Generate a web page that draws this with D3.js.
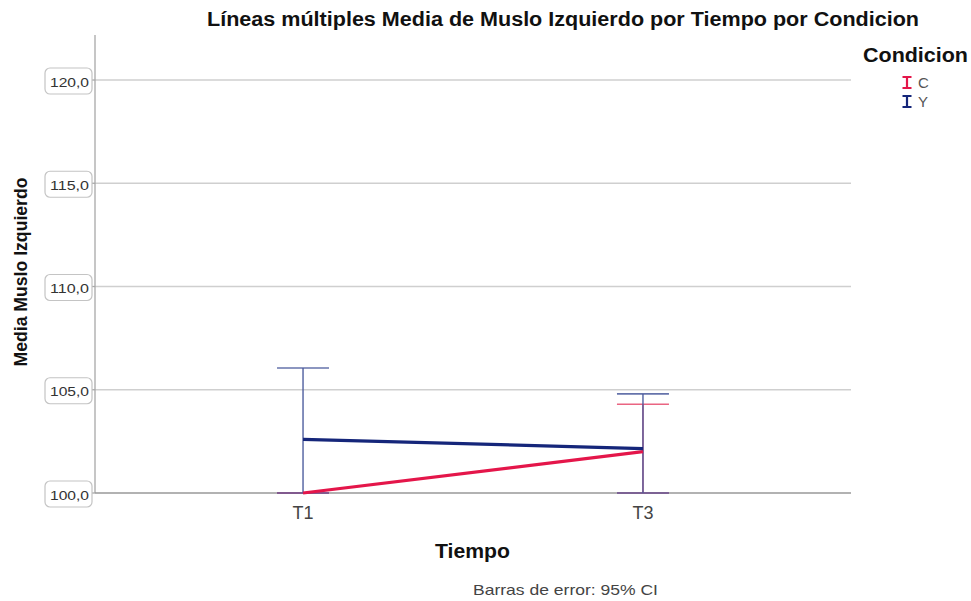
<!DOCTYPE html>
<html>
<head>
<meta charset="utf-8">
<script src="https://cdn.jsdelivr.net/npm/d3@7"></script>
<style>
  body { margin: 0; background: #fff; }
  svg { display: block; }
</style>
</head>
<body>
<svg id="chart" width="971" height="601"></svg>
<script>
// Time points and condition groups
const tiempos = ["T1", "T3"];
const condiciones = ["C", "Y"];
// Mean of left thigh by group, per time point
const mediaC = [100.0, 102.0];
const mediaY = [102.6, 102.15];
// 95% CI bounds
const ciBajoC = [100.0, 99.7];
const ciAltoC = [100.0, 104.3];
const ciBajoY = [99.15, 99.5];
const ciAltoY = [106.05, 104.8];
// Y axis ticks
const yTicks = [100, 105, 110, 115, 120];

const colores = { C: "#e4164a", Y: "#15267a" };
const coloresBarra = { C: "#e64a6c", Y: "#4a5b9c" };
const FONT = "Liberation Sans, Arial, sans-serif";

const series = [
  { key: "C", media: mediaC, lo: ciBajoC, hi: ciAltoC },
  { key: "Y", media: mediaY, lo: ciBajoY, hi: ciAltoY }
];

const svg = d3.select("#chart");
const plotL = 95, plotR = 851, plotT = 35, plotB = 493;

const x = d3.scalePoint().domain(tiempos).range([plotL, plotR]).padding(0.612);
const yMin = 100, yMax = 122.18;
const y = d3.scaleLinear().domain([yMin, yMax]).range([plotB, plotT]);
const yc = v => y(Math.max(yMin, Math.min(yMax, v)));

// Text helper: fixed-width labels in the chart's wide lettering
function label(parent, str, size, width, opts = {}) {
  const t = parent.append("text")
    .attr("font-family", FONT).attr("font-size", size)
    .attr("fill", opts.fill || "#111")
    .attr("font-weight", opts.bold ? "bold" : "normal")
    .attr("text-anchor", opts.anchor || "start")
    .text(str);
  if (width) t.attr("textLength", width).attr("lengthAdjust", "spacingAndGlyphs");
  return t;
}

// Gridlines
svg.append("g").selectAll("line").data(yTicks.slice(1)).join("line")
  .attr("x1", plotL).attr("x2", plotR)
  .attr("y1", d => y(d)).attr("y2", d => y(d))
  .attr("stroke", "#cfcfcf").attr("stroke-width", 1.3);

// Axis lines
svg.append("line").attr("x1", plotL).attr("x2", plotL).attr("y1", plotT).attr("y2", plotB)
  .attr("stroke", "#a8a8a8").attr("stroke-width", 1.3);
svg.append("line").attr("x1", plotL).attr("x2", plotR).attr("y1", plotB).attr("y2", plotB)
  .attr("stroke", "#999").attr("stroke-width", 1.3);

// Y tick labels in rounded boxes
const tk = svg.append("g").selectAll("g").data(yTicks).join("g")
  .attr("transform", d => `translate(0,${y(d)})`);
tk.append("line").attr("x1", 92).attr("x2", plotL).attr("stroke", "#a8a8a8").attr("stroke-width", 1.3);
tk.append("rect").attr("x", 45).attr("y", -12).attr("width", 47).attr("height", 26)
  .attr("rx", 5).attr("ry", 5).attr("fill", "#fff").attr("stroke", "#c4c4c4").attr("stroke-width", 1.2);
tk.each(function (d) {
  label(d3.select(this), d3.format(".1f")(d).replace(".", ","), 12.5, 39, { fill: "#333" })
    .attr("x", 50).attr("y", 6.5);
});

// X tick labels
svg.append("g").selectAll("text").data(tiempos).join("text")
  .attr("x", d => x(d)).attr("y", 519).attr("text-anchor", "middle")
  .attr("font-family", FONT).attr("font-size", 18)
  .attr("fill", "#444").text(d => d);

// Error bars
const capW = 26;
series.forEach(s => {
  const g = svg.append("g").attr("stroke", coloresBarra[s.key]).attr("stroke-width", 1.6)
    .attr("fill", "none").attr("stroke-opacity", 0.85);
  tiempos.forEach((t, i) => {
    const cx = x(t);
    g.append("line").attr("x1", cx).attr("x2", cx).attr("y1", yc(s.lo[i])).attr("y2", yc(s.hi[i]));
    g.append("line").attr("x1", cx - capW).attr("x2", cx + capW).attr("y1", yc(s.hi[i])).attr("y2", yc(s.hi[i]));
    g.append("line").attr("x1", cx - capW).attr("x2", cx + capW).attr("y1", yc(s.lo[i])).attr("y2", yc(s.lo[i]));
  });
});

// Mean lines
const line = d3.line().x((d, i) => x(tiempos[i])).y(d => yc(d));
series.forEach(s => {
  svg.append("path").datum(s.media).attr("d", line)
    .attr("fill", "none").attr("stroke", colores[s.key]).attr("stroke-width", 3.2);
});

// Title
label(svg, "Líneas múltiples Media de Muslo Izquierdo por Tiempo por Condicion", 19.5, 712, { bold: true })
  .attr("x", 207).attr("y", 26);

// Axis titles
label(svg, "Media Muslo Izquierdo", 18, 189, { bold: true, anchor: "middle" })
  .attr("transform", "translate(27,272) rotate(-90)");
label(svg, "Tiempo", 19.5, 75, { bold: true }).attr("x", 435).attr("y", 558);
label(svg, "Barras de error: 95% CI", 15, 185, { fill: "#444" }).attr("x", 473).attr("y", 595);

// Legend
label(svg, "Condicion", 19.5, 105, { bold: true }).attr("x", 863).attr("y", 62);
const lg = svg.append("g").selectAll("g").data(condiciones).join("g")
  .attr("transform", (d, i) => `translate(907,${82.5 + i * 19})`);
lg.append("path").attr("d", "M-4.5,-5.5H4.5M0,-5.5V5.5M-4.5,5.5H4.5")
  .attr("stroke", d => colores[d]).attr("stroke-width", 2.2).attr("fill", "none");
lg.each(function (d) {
  label(d3.select(this), d, 15, null, { fill: "#555" }).attr("x", 11).attr("y", 5.5);
});
</script>
</body>
</html>
